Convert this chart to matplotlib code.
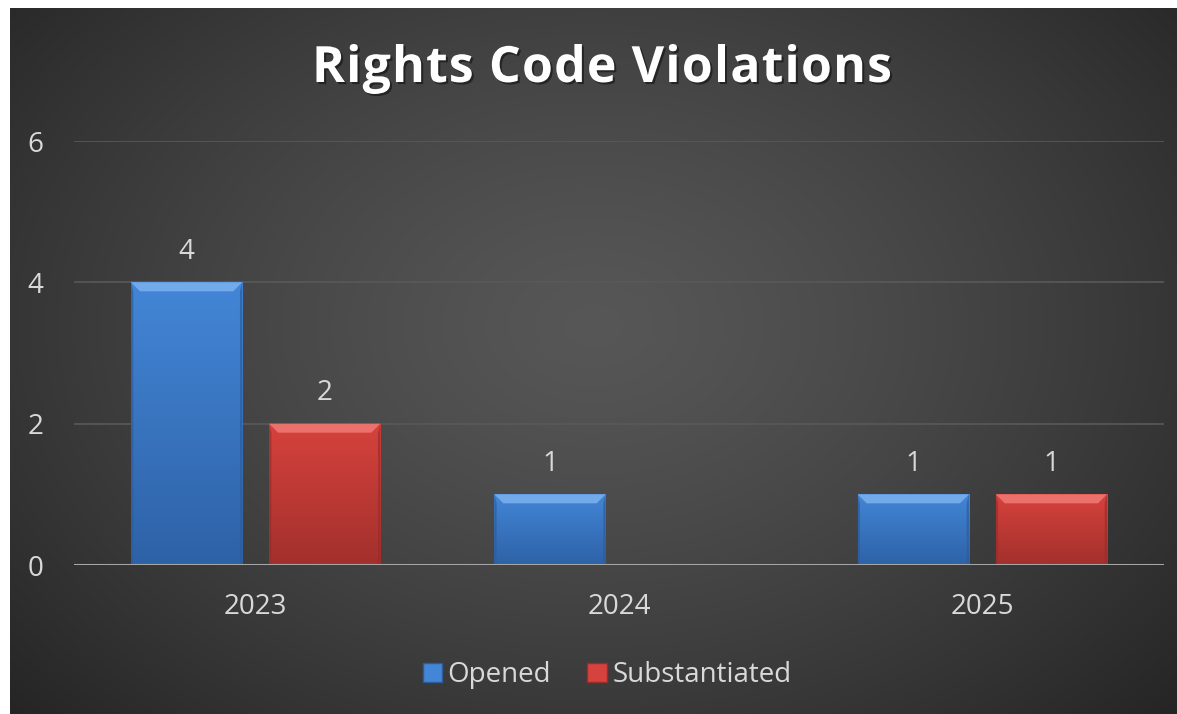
import numpy as np
import matplotlib.pyplot as plt
from matplotlib.patches import Polygon, Patch
from matplotlib.colors import to_rgb
import matplotlib.patheffects as pe

years = ["2023", "2024", "2025"]
opened = [4, 1, 1]
substantiated = [2, 0, 1]
series_names = ["Opened", "Substantiated"]
title = "Rights Code Violations"

plt.rcParams['font.family'] = ['Open Sans', 'DejaVu Sans']

W, H = 1177, 714
fig = plt.figure(figsize=(W / 100, H / 100), dpi=100, facecolor="white")

# dark radial background of the chart area
bg = fig.add_axes([10 / W, 0, 1 - 10 / W, 1 - 8 / H])
yy, xx = np.mgrid[0:1:300j, 0:1:500j]
r = np.sqrt(((xx - 0.5) / 0.8) ** 2 + ((yy - 0.55) / 0.95) ** 2)
shade = np.clip(0.34 - 0.24 * r ** 1.3, 0.145, 0.34)
bg.imshow(np.dstack([shade] * 3), extent=[0, 1, 0, 1], aspect="auto", origin="lower")
bg.axis("off")

ax_l, ax_r = 74, 1164
ax = fig.add_axes([ax_l / W, 1 - 565 / H, (ax_r - ax_l) / W, 424 / H])
ax.patch.set_alpha(0)
ax.set_xlim(-0.5, 2.5)
ax.set_ylim(0, 6)

x = np.arange(len(years))
w = 0.306
off = 0.19
styles = [
    dict(top="#4386d6", bot="#2e62a7", bevel="#72aaea", side="#2d5c9c"),
    dict(top="#d6423d", bot="#a3302c", bevel="#ec706b", side="#9a2d29"),
]

px_x = 3 / (ax_r - ax_l)  # data units per pixel
px_y = 6 / 424
bev = 9

for k, vals in enumerate([opened, substantiated]):
    st = styles[k]
    bars = ax.bar(x + (2 * k - 1) * off, vals, w, color=st["bot"], zorder=3)
    for b, v in zip(bars, vals):
        if v <= 0:
            continue
        x0, x1 = b.get_x(), b.get_x() + b.get_width()
        h = b.get_height()
        grad = np.linspace(0, 1, 100)[:, None]
        c1 = np.array(to_rgb(st["bot"]))
        c2 = np.array(to_rgb(st["top"]))
        img = c1 + (c2 - c1) * grad[..., None]
        im = ax.imshow(img, extent=[x0, x1, 0, h], aspect="auto", origin="lower", zorder=3)
        im.set_clip_path(b)
        dx, dy = bev * px_x, bev * px_y
        ax.add_patch(Polygon([[x0, h], [x1, h], [x1 - dx, h - dy], [x0 + dx, h - dy]],
                             color=st["bevel"], zorder=4, lw=0))
        ax.add_patch(Polygon([[x0, h], [x0 + dx * 0.25, h - dy], [x0 + dx * 0.25, 0], [x0, 0]],
                             color=st["side"], zorder=4, lw=0, alpha=0.7))
        ax.add_patch(Polygon([[x1, h], [x1 - dx * 0.25, h - dy], [x1 - dx * 0.25, 0], [x1, 0]],
                             color=st["side"], zorder=4, lw=0, alpha=0.7))
        ax.annotate(str(v), (b.get_x() + b.get_width() / 2, h), xytext=(0, 22),
                    textcoords="offset points", ha="center", va="center",
                    color="#d9d9d9", fontsize=20, zorder=5)

ax.set_yticks([0, 2, 4, 6])
ax.set_xticks(x)
ax.set_xticklabels(years)
ax.grid(axis="y", color="#595959", lw=1.2, zorder=0)
ax.axhline(0, color="#a6a6a6", lw=2.2, zorder=6)
for s in ax.spines.values():
    s.set_visible(False)
ax.tick_params(axis="both", length=0, colors="#d9d9d9", labelsize=20)
ax.tick_params(axis="y", pad=22)
ax.tick_params(axis="x", pad=20)

# title with slight letter spacing: place characters one by one
renderer = fig.canvas.get_renderer()
t_left, t_right, t_base = 312, 892, 82
shadow = [pe.withSimplePatchShadow(offset=(1.5, -1.5), shadow_rgbFace="black", alpha=0.45)]
tkw = dict(color="white", fontsize=36, fontweight="bold", va="baseline", ha="left")


def text_w(s):
    t = fig.text(0, 0, s, **tkw)
    wd = t.get_window_extent(renderer).width
    t.remove()
    return wd


ref_w = text_w("l")
adv = [text_w(ch + "l") - ref_w for ch in title]
natural = sum(adv[:-1]) + text_w(title[-1])
gap = ((t_right - t_left) - natural) / (len(title) - 1)
pos = t_left
for ch, a in zip(title, adv):
    if ch != " ":
        fig.text(pos / W, 1 - t_base / H, ch, path_effects=shadow, **tkw)
    pos += a + gap

handles = [Patch(facecolor=styles[0]["top"], edgecolor=styles[0]["side"]),
           Patch(facecolor=styles[1]["top"], edgecolor=styles[1]["side"])]
leg = fig.legend(handles, series_names, loc="center", bbox_to_anchor=(607 / W, 1 - 675 / H),
                 ncol=2, frameon=False, fontsize=20, labelcolor="#d9d9d9",
                 handlelength=0.7, handleheight=0.7, handletextpad=0.2, columnspacing=1.3)

fig.savefig("out.png", dpi=100, facecolor="white")
